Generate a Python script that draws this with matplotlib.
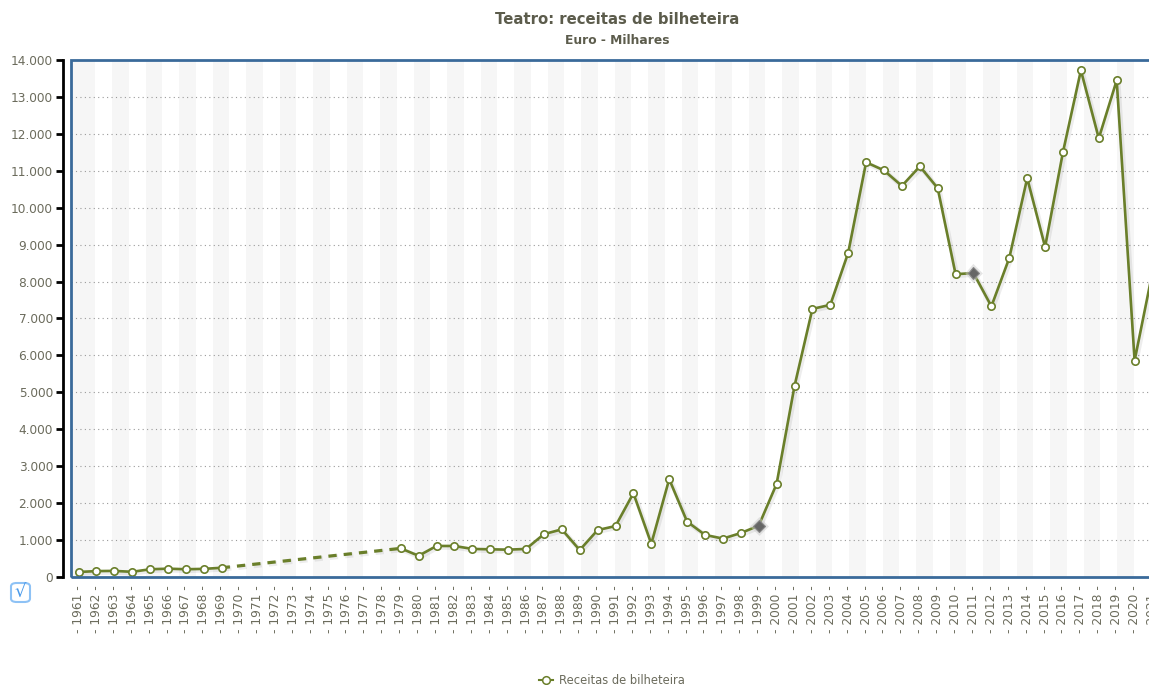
import numpy as np
import matplotlib
matplotlib.use("Agg")
import matplotlib.pyplot as plt
from matplotlib.patches import FancyBboxPatch, Rectangle
import matplotlib.patheffects as pe
from matplotlib.ticker import FuncFormatter

# ---------------- data ----------------
years = list(range(1961, 2022))
values = [135, 160, 165, 140, 210, 225, 210, 220, 250,
          None, None, None, None, None, None, None, None, None,
          775, 575, 840, 840, 760, 750, 740, 760, 1160, 1290, 730,
          1270, 1380, 2270, 900, 2650, 1500, 1140, 1040, 1190, 1390,
          2520, 5170, 7260, 7370, 8780, 11230, 11010, 10590, 11120, 10530,
          8200, 8230, 7330, 8640, 10800, 8940, 11510, 13720, 11880, 13450,
          5860, 8260]
break_years = [1999, 2011]
title = "Teatro: receitas de bilheteira"
subtitle = "Euro - Milhares"
series_name = "Receitas de bilheteira"
y_ticks = list(range(0, 14001, 1000))

# ---------------- style ----------------
W, H = 1149, 685
LINE = "#6A7F2A"
TXT = "#6B6B5C"
TITLE = "#5C5C4C"
BORDER = "#3A6A9A"

fig = plt.figure(figsize=(W / 100, H / 100), dpi=100)
plt.rcParams['font.family'] = ['DejaVu Sans']

px_per_cat = 17.9
x_left_px, x0_px = 71, 78.5
xmin = -(x0_px - x_left_px) / px_per_cat
xmax = 60.6
ax_w_px = (xmax - xmin) * px_per_cat
top_px, bot_px = 60, 577
ax = fig.add_axes([x_left_px / W, (H - bot_px) / H, ax_w_px / W, (bot_px - top_px) / H])
ax.set_xlim(xmin, xmax)
ax.set_ylim(0, 14000)

x = np.arange(len(years))
v = np.array([np.nan if val is None else val for val in values], dtype=float)

# alternating bands
band_w = 16.75 / px_per_cat
b = 0.0
ax.axvspan(xmin, 0, color="#F6F6F6", lw=0, zorder=0)
while b < xmax:
    ax.axvspan(b, b + band_w, color="#F6F6F6", lw=0, zorder=0)
    b += 2 * band_w

# grid
for t in y_ticks[1:-1]:
    ax.axhline(t, color="#9A9A9A", lw=0.8, ls=(0, (1, 3)), zorder=1)

shadow = [pe.SimpleLineShadow(offset=(1, -1), shadow_color="black", alpha=0.07, linewidth=3.5), pe.Normal()]

# dashed connector over missing years
valid = ~np.isnan(v)
idx = np.where(valid)[0]
for a, c in zip(idx[:-1], idx[1:]):
    if c - a > 1:
        ax.plot([x[a], x[c]], [v[a], v[c]], color=LINE, lw=2.3, ls=(0, (2.6, 2.2)),
                zorder=3, path_effects=shadow, dash_capstyle="butt")

ax.plot(x, v, color=LINE, lw=1.9, zorder=4, path_effects=shadow)

normal = [i for i, yv in enumerate(years) if valid[i] and yv not in break_years]
brk = [i for i, yv in enumerate(years) if yv in break_years]
ax.plot(x[normal], v[normal], ls="none", marker="o", ms=5.3, mfc="white", mec=LINE, mew=1.2, zorder=5)
ax.plot(x[brk], v[brk], ls="none", marker="D", ms=6, mfc="#666666", mec="#888888", mew=0.8, zorder=5,
        path_effects=[pe.withStroke(linewidth=3.5, foreground="#cccccc", alpha=0.5)])

# spines
for s in ["top", "bottom", "right"]:
    ax.spines[s].set_visible(False)
ax.spines["left"].set_position(("outward", 6))
ax.spines["left"].set_color("black")
ax.spines["left"].set_linewidth(2)
ax.add_patch(Rectangle((0, 0), 1, 1, transform=ax.transAxes, fill=False, ec=BORDER, lw=2, zorder=6, clip_on=False))

ax.set_yticks(y_ticks)
ax.yaxis.set_major_formatter(FuncFormatter(lambda val, p: f"{int(val):,}".replace(",", ".")))
ax.tick_params(axis="y", colors="black", length=5, width=2, labelcolor=TXT, labelsize=8.7, pad=2)

ax.set_xticks(x)
ax.set_xticklabels([f"- {yv} -" for yv in years], rotation=90, color=TXT, fontsize=8.8)
ax.tick_params(axis="x", length=0, pad=6)

# titles
cx = (x_left_px + x_left_px + ax_w_px) / 2 / W
fig.text(cx, 1 - 20 / H, title, ha="center", va="center", fontsize=10.7, fontweight="bold", color=TITLE)
fig.text(cx, 1 - 41 / H, subtitle, ha="center", va="center", fontsize=8.8, fontweight="bold", color=TITLE)

# legend
lx = 546
fig.add_artist(plt.Line2D([(lx - 7) / W, (lx + 7) / W], [1 - 680 / H] * 2, transform=fig.transFigure,
                          color=LINE, lw=1.5))
fig.add_artist(plt.Line2D([lx / W], [1 - 680 / H], transform=fig.transFigure, ls="none",
                          marker="o", ms=5.5, mfc="white", mec=LINE, mew=1.1))
fig.text((lx + 13) / W, 1 - 680 / H, series_name, ha="left", va="center", fontsize=8.3, color=TXT)

# checkbox icon
fig.patches.append(FancyBboxPatch((11 / W, 1 - 602 / H), 19 / W, 19 / H, boxstyle="round,pad=0,rounding_size=0.005",
                                  transform=fig.transFigure, fill=False, ec="#8EC2F5", lw=1.5))
fig.text(20.5 / W, 1 - 592 / H, "√", ha="center", va="center", fontsize=13, color="#4A9AEA")

fig.savefig("out.png", dpi=100)
